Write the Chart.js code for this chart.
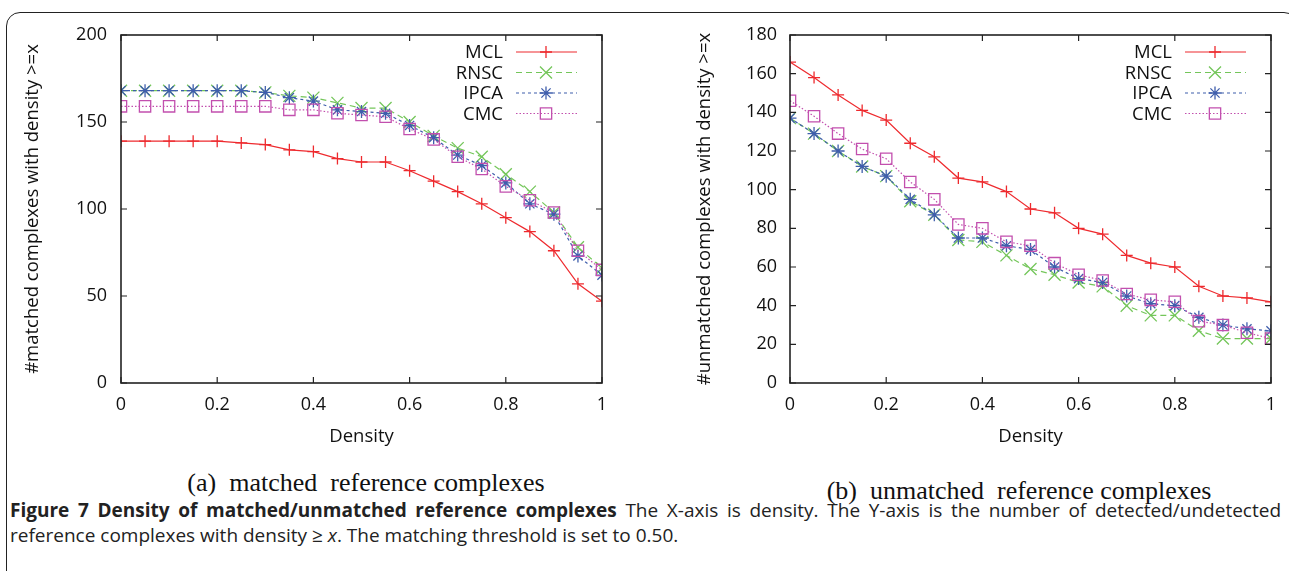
<!DOCTYPE html>
<html>
<head>
<meta charset="utf-8">
<title>Figure 7</title>
<script src="https://cdn.jsdelivr.net/npm/chart.js@4.4.1/dist/chart.umd.min.js"></script>
<style>
  html, body { margin: 0; padding: 0; background: #fff; overflow: hidden; }
  body { width: 1289px; height: 571px; position: relative; font-family: 'Open Sans', sans-serif; }
  .frame { position: absolute; left: 6px; top: 12px; width: 1290px; height: 620px; border: 1.6px solid #222; border-radius: 14px; }
  canvas { position: absolute; top: 0; }
  #chartA { left: 0; }
  #chartB { left: 660px; }
  .sub { position: absolute; font-family: 'Liberation Serif', 'Times New Roman', serif; font-size: 26px; line-height: 30px; color: #111; white-space: pre; transform: translateX(-50%); }
  .caption { position: absolute; left: 10px; top: 498px; width: 1271px; font-size: 19px; line-height: 25px; color: #222; text-align: justify; text-align-last: left; }
</style>
</head>
<body>
<div class="frame"></div>
<canvas id="chartA" width="620" height="460"></canvas>
<canvas id="chartB" width="628" height="460"></canvas>
<div class="sub" style="left:366px; top:468px;">(a)  matched  reference complexes</div>
<div class="sub" style="left:1019px; top:476px;">(b)  unmatched  reference complexes</div>
<div class="caption"><b>Figure 7 Density of matched/unmatched reference complexes</b> The X-axis is density. The Y-axis is the number of detected/undetected reference complexes with density &ge; <i>x</i>. The matching threshold is set to 0.50.</div>

<script>
// ---- data ----
const density = [0, 0.05, 0.1, 0.15, 0.2, 0.25, 0.3, 0.35, 0.4, 0.45, 0.5,
                 0.55, 0.6, 0.65, 0.7, 0.75, 0.8, 0.85, 0.9, 0.95, 1];
const seriesNames = ['MCL', 'RNSC', 'IPCA', 'CMC'];
const xTicks = [0, 0.2, 0.4, 0.6, 0.8, 1];
const matchedTicks = [0, 50, 100, 150, 200];
const unmatchedTicks = [0, 20, 40, 60, 80, 100, 120, 140, 160, 180];

// (a) matched
const matchedMCL  = [139, 139, 139, 139, 139, 138, 137, 134, 133, 129, 127, 127, 122, 116, 110, 103, 95, 87, 76, 57, 47];
const matchedRNSC = [168, 168, 168, 168, 168, 168, 167, 165, 164, 161, 158, 158, 150, 142, 135, 130, 120, 110, 98, 78, 66];
const matchedIPCA = [168, 168, 168, 168, 168, 168, 167, 164, 162, 157, 156, 155, 148, 141, 131, 125, 115, 103, 97, 73, 62];
const matchedCMC  = [159, 159, 159, 159, 159, 159, 159, 157, 157, 155, 154, 153, 146, 140, 130, 123, 113, 105, 98, 76, 65];

// (b) unmatched
const unmatchedMCL  = [166, 158, 149, 141, 136, 124, 117, 106, 104, 99, 90, 88, 80, 77, 66, 62, 60, 50, 45, 44, 42];
const unmatchedRNSC = [137, 129, 120, 112, 107, 94, 87, 74, 73, 66, 59, 56, 52, 50, 40, 35, 35, 27, 23, 23, 23];
const unmatchedIPCA = [137, 129, 120, 112, 107, 95, 87, 75, 75, 71, 69, 60, 54, 52, 45, 41, 40, 34, 30, 28, 27];
const unmatchedCMC  = [146, 138, 129, 121, 116, 104, 95, 82, 80, 73, 71, 62, 56, 53, 46, 43, 42, 32, 30, 26, 23];

// ---- styles ----
const colors = ['#ee2a2e', '#74c65a', '#3f5eac', '#c24fae'];
const dashes = [[], [6, 4], [3, 3], [1.5, 2]];
const pointStyles = ['cross', 'crossRot', 'star', 'rect'];
const pointRadii = [6, 8.5, 6.5, 8];

Chart.defaults.font.family = "'Open Sans', sans-serif";
Chart.defaults.color = '#111';

function makeDatasets(seriesList) {
    return seriesList.map((values, i) => ({
        label: seriesNames[i],
        data: values.map((v, k) => ({ x: density[k], y: v })),
        borderColor: colors[i],
        borderWidth: 1.2,
        borderDash: dashes[i],
        pointStyle: pointStyles[i],
        pointRadius: pointRadii[i],
        pointBorderColor: colors[i],
        pointBackgroundColor: 'rgba(0,0,0,0)',
        pointBorderWidth: 1.3,
        tension: 0,
        fill: false,
        order: 3 - i
    }));
}

// gnuplot style: closed box with inward ticks on every side
const boxTicks = {
    id: 'boxTicks',
    afterDatasetsDraw(chart) {
        const { ctx, chartArea: a, scales } = chart;
        const len = 6;
        ctx.save();
        ctx.strokeStyle = '#222';
        ctx.lineWidth = 1.2;
        ctx.beginPath();
        scales.x.ticks.forEach(t => {
            const px = scales.x.getPixelForValue(t.value);
            ctx.moveTo(px, a.bottom); ctx.lineTo(px, a.bottom - len);
            ctx.moveTo(px, a.top); ctx.lineTo(px, a.top + len);
        });
        scales.y.ticks.forEach(t => {
            const py = scales.y.getPixelForValue(t.value);
            ctx.moveTo(a.left, py); ctx.lineTo(a.left + len, py);
            ctx.moveTo(a.right, py); ctx.lineTo(a.right - len, py);
        });
        ctx.stroke();
        ctx.lineWidth = 1.6;
        ctx.strokeRect(a.left, a.top, a.right - a.left, a.bottom - a.top);
        ctx.restore();
    }
};

// key inside the plot, text on the left of the sample
const keyBox = {
    id: 'keyBox',
    afterDraw(chart) {
        const { ctx, chartArea: a } = chart;
        ctx.save();
        ctx.font = "18.5px 'Open Sans', sans-serif";
        ctx.textAlign = 'right';
        ctx.textBaseline = 'middle';
        chart.data.datasets.forEach((ds, i) => {
            const y = a.top + 17 + i * 20.5;
            ctx.fillStyle = '#111';
            ctx.fillText(ds.label, a.right - 99, y + 1);
            ctx.strokeStyle = ds.borderColor;
            ctx.lineWidth = 1.2;
            ctx.setLineDash(ds.borderDash);
            ctx.beginPath();
            ctx.moveTo(a.right - 86, y);
            ctx.lineTo(a.right - 25, y);
            ctx.stroke();
            ctx.setLineDash([]);
            ctx.fillStyle = 'rgba(0,0,0,0)';
            ctx.lineWidth = ds.pointBorderWidth;
            Chart.helpers.drawPoint(ctx, {
                pointStyle: ds.pointStyle,
                radius: ds.pointRadius,
                rotation: 0,
                borderWidth: ds.pointBorderWidth
            }, a.right - 56, y);
        });
        ctx.restore();
    }
};

function makeChart(id, seriesList, yMax, yTicks, yTitle, opts) {
    return new Chart(document.getElementById(id), {
        type: 'line',
        data: { datasets: makeDatasets(seriesList) },
        options: {
            responsive: false,
            animation: false,
            layout: { padding: { left: 0, top: 35, right: opts.padRight, bottom: 0 } },
            plugins: { legend: { display: false }, tooltip: { enabled: false } },
            scales: {
                x: {
                    type: 'linear',
                    min: 0,
                    max: 1,
                    afterBuildTicks: s => { s.ticks = xTicks.map(v => ({ value: v })); },
                    afterFit: s => { s.height = 77; },
                    grid: { display: false, drawTicks: false },
                    border: { display: false },
                    ticks: { padding: 11, font: { size: 18 }, color: '#111', maxRotation: 0, callback: v => String(v) },
                    title: { display: true, text: 'Density', font: { size: 18.5 }, color: '#111', padding: { top: 0, bottom: 12 } }
                },
                y: {
                    min: 0,
                    max: yMax,
                    afterBuildTicks: s => { s.ticks = yTicks.map(v => ({ value: v })); },
                    afterFit: s => { s.width = opts.yWidth; },
                    grid: { display: false, drawTicks: false },
                    border: { display: false },
                    ticks: { padding: opts.tickPad, font: { size: 18 }, color: '#111' },
                    title: { display: true, text: yTitle, font: { size: 18.5 }, color: '#111', padding: { top: opts.titlePad, bottom: 0 } }
                }
            }
        },
        plugins: [boxTicks, keyBox]
    });
}

makeChart('chartA', [matchedMCL, matchedRNSC, matchedIPCA, matchedCMC], 200, matchedTicks,
    '#matched complexes with density >=x', { padRight: 18, yWidth: 121, tickPad: 14, titlePad: 22 });
makeChart('chartB', [unmatchedMCL, unmatchedRNSC, unmatchedIPCA, unmatchedCMC], 180, unmatchedTicks,
    '#unmatched complexes with density >=x', { padRight: 17, yWidth: 130, tickPad: 13, titlePad: 34 });
</script>
</body>
</html>
